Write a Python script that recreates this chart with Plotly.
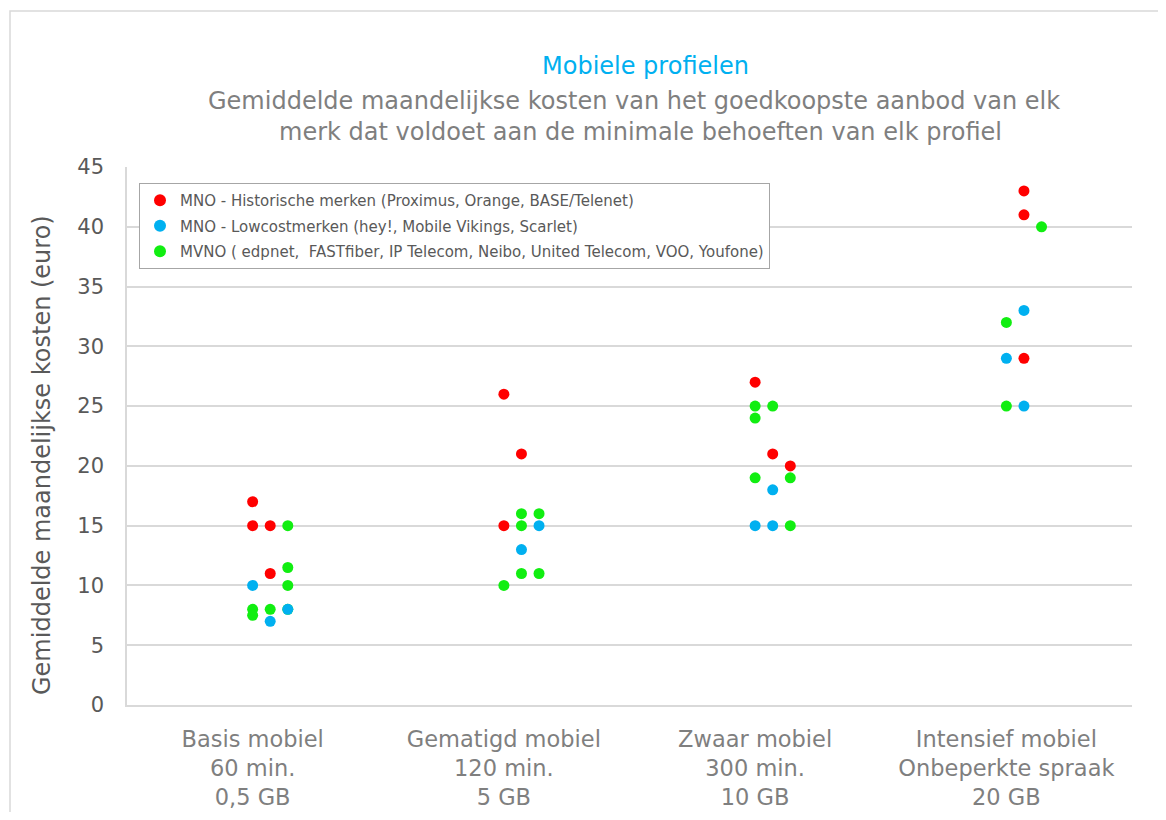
import plotly.graph_objects as go

# ---- data ----
categories = [
    "Basis mobiel<br>60 min.<br>0,5 GB",
    "Gematigd mobiel<br>120 min.<br>5 GB",
    "Zwaar mobiel<br>300 min.<br>10 GB",
    "Intensief mobiel<br>Onbeperkte spraak<br>20 GB",
]
y_ticks = [0, 5, 10, 15, 20, 25, 30, 35, 40, 45]

series_names = [
    "MNO - Historische merken (Proximus, Orange, BASE/Telenet)",
    "MNO - Lowcostmerken (hey!, Mobile Vikings, Scarlet)",
    "MVNO ( edpnet,  FASTfiber, IP Telecom, Neibo, United Telecom, VOO, Youfone)",
]

# category index, slot within category (0,1,2), monthly cost
hist_cat = [0, 0, 0, 0, 1, 1, 1, 2, 2, 2, 3, 3, 3]
hist_slot = [0, 0, 1, 1, 0, 1, 0, 0, 1, 2, 1, 1, 1]
hist_cost = [17, 15, 15, 11, 26, 21, 15, 27, 21, 20, 43, 41, 29]

low_cat = [0, 0, 0, 1, 1, 2, 2, 2, 3, 3, 3]
low_slot = [0, 1, 2, 2, 1, 1, 0, 1, 1, 0, 1]
low_cost = [10, 7, 8, 15, 13, 18, 15, 15, 33, 29, 25]

mvno_cat = [0, 0, 0, 0, 0, 0, 0, 1, 1, 1, 1, 1, 1, 2, 2, 2, 2, 2, 2, 3, 3, 3]
mvno_slot = [2, 2, 2, 0, 0, 1, 2, 1, 2, 1, 1, 2, 0, 0, 1, 0, 0, 2, 2, 2, 0, 0]
mvno_cost = [15, 11.5, 10, 8, 7.5, 8, 8, 16, 16, 15, 11, 11, 10, 25, 25, 24, 19, 19, 15, 40, 32, 25]

colors = ["#FF0000", "#00B0F0", "#11EE11"]
SLOT_W = 0.07
FONT = "DejaVu Sans"


def xs(cats, slots):
    return [c + s * SLOT_W for c, s in zip(cats, slots)]


fig = go.Figure()
fig.add_trace(go.Scatter(x=xs(hist_cat, hist_slot), y=hist_cost, mode="markers",
                         name=series_names[0], legendrank=1, legendgroup="a",
                         marker=dict(color=colors[0], size=11)))
fig.add_trace(go.Scatter(x=xs(mvno_cat, mvno_slot), y=mvno_cost, mode="markers",
                         name=series_names[2], legendrank=3, legendgroup="c",
                         marker=dict(color=colors[2], size=11)))
fig.add_trace(go.Scatter(x=xs(low_cat, low_slot), y=low_cost, mode="markers",
                         name=series_names[1], legendrank=2, legendgroup="b",
                         marker=dict(color=colors[1], size=11)))

OFF = 8  # page body margin
W, H = 1150, 804
L, R, T, B = 127 - OFF, 1132 - OFF, 167 - OFF, 705 - OFF


def px(x):
    return (x - OFF - L) / (R - L)


def py(y):
    return (B - (y - OFF)) / (B - T)


fig.update_layout(
    width=W, height=H,
    margin=dict(l=L, r=W - R, t=T, b=H - B, autoexpand=False),
    paper_bgcolor="white", plot_bgcolor="white",
    font=dict(family=FONT, color="#595959"),
    showlegend=True,
    legend=dict(x=px(139), y=py(183), xanchor="left", yanchor="top",
                bordercolor="#A6A6A6", borderwidth=1, bgcolor="white",
                font=dict(size=15, color="#595959"), itemsizing="constant",
                tracegroupgap=3),
    xaxis=dict(range=[-0.5, 3.5], tickmode="array", tickvals=[0, 1, 2, 3],
               ticktext=categories, showgrid=False, zeroline=False,
               showline=True, linecolor="#D9D9D9", linewidth=1.5,
               tickfont=dict(size=22.5, color="#7F7F7F"), ticks="",
               ticklabelstandoff=13, automargin=False),
    yaxis=dict(range=[0, 45], tickmode="array", tickvals=y_ticks,
               showgrid=True, gridcolor="#D9D9D9", gridwidth=1.5,
               zeroline=False, showline=True, linecolor="#D9D9D9", linewidth=1.5,
               tickfont=dict(size=21, color="#595959"), ticks="",
               ticklabelstandoff=17, automargin=False),
    annotations=[
        dict(text="Mobiele profielen", x=px(645), y=py(66), xref="paper", yref="paper",
             showarrow=False, xanchor="center", yanchor="middle",
             font=dict(size=24, color="#00B0F0", family=FONT)),
        dict(text="Gemiddelde maandelijkse kosten van het goedkoopste aanbod van elk",
             x=px(634), y=py(101), xref="paper", yref="paper", showarrow=False,
             xanchor="center", yanchor="middle",
             font=dict(size=24, color="#7F7F7F", family=FONT)),
        dict(text="merk dat voldoet aan de minimale behoeften van elk profiel",
             x=px(640), y=py(132), xref="paper", yref="paper", showarrow=False,
             xanchor="center", yanchor="middle",
             font=dict(size=24, color="#7F7F7F", family=FONT)),
        dict(text="Gemiddelde maandelijkse kosten (euro)", x=px(42), y=py(455),
             xref="paper", yref="paper", showarrow=False, textangle=-90,
             xanchor="center", yanchor="middle",
             font=dict(size=24, color="#595959", family=FONT)),
    ],
    shapes=[
        dict(type="rect", xref="paper", yref="paper",
             x0=px(10), y0=py(900), x1=px(1250), y1=py(11),
             line=dict(color="#D9D9D9", width=1.5), fillcolor="rgba(0,0,0,0)",
             layer="below"),
    ],
)

fig.write_html("out.html")
